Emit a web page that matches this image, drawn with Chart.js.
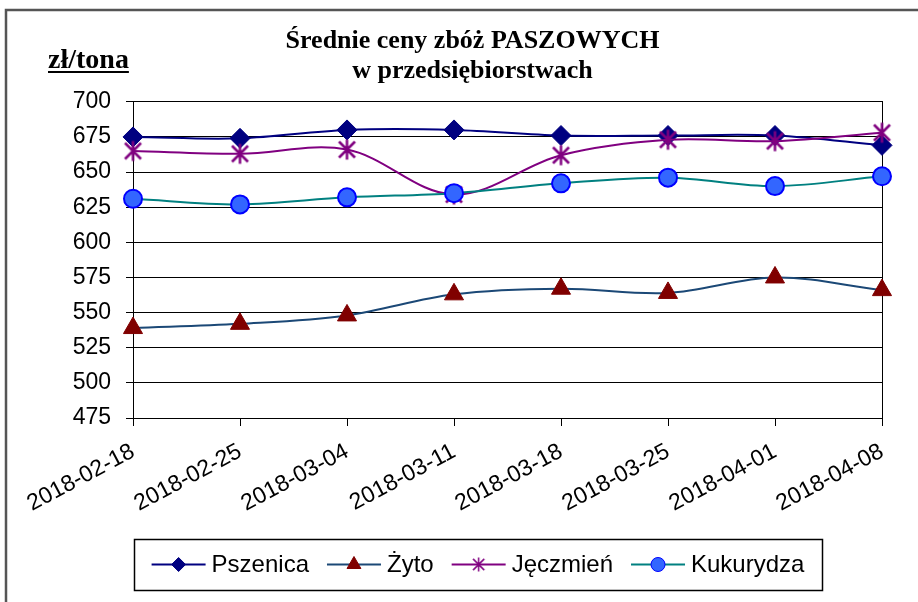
<!DOCTYPE html>
<html>
<head>
<meta charset="utf-8">
<script src="https://cdn.jsdelivr.net/npm/chart.js@4"></script>
<style>
html, body { margin: 0; padding: 0; background: #fff; }
#wrap { width: 918px; height: 602px; }
</style>
</head>
<body>
<div id="wrap"><canvas id="wykres" width="918" height="602"></canvas></div>
<script>
// dane
const daty = ['2018-02-18', '2018-02-25', '2018-03-04', '2018-03-11', '2018-03-18', '2018-03-25', '2018-04-01', '2018-04-08'];
const pszenica = [675, 674, 680, 680, 676, 676, 676, 669];
const zyto = [539, 542, 548, 563, 567, 564, 575, 566];
const jeczmien = [665, 663, 666, 634, 662, 673, 672, 678];
const kukurydza = [631, 627, 632, 635, 642, 646, 640, 647];
const osY = [475, 700, 25]; // min, max, krok
const tytul = ['Średnie ceny zbóż PASZOWYCH', 'w przedsiębiorstwach'];
const jednostka = 'zł/tona';

const sans = 'Arial, "Liberation Sans", sans-serif';
const serif = '"Times New Roman", "Liberation Serif", serif';

// gwiazdka jak w Excelu (pion + X)
function gwiazdka(r, lw, kolor) {
	const c = document.createElement('canvas');
	const s = Math.ceil(2 * r + lw * 2);
	c.width = s; c.height = s;
	const g = c.getContext('2d');
	const m = s / 2, d = r * 0.8;
	g.strokeStyle = kolor;
	g.lineWidth = lw;
	g.beginPath();
	g.moveTo(m, m - r); g.lineTo(m, m + r);
	g.moveTo(m - d, m - d); g.lineTo(m + d, m + d);
	g.moveTo(m + d, m - d); g.lineTo(m - d, m + d);
	g.stroke();
	return c;
}

// tlo, ramka i opis osi
const tlo = {
	id: 'tlo',
	beforeDraw(chart) {
		const ctx = chart.ctx;
		ctx.save();
		ctx.fillStyle = '#fff';
		ctx.fillRect(0, 0, chart.width, chart.height);
		ctx.strokeStyle = '#555';
		ctx.lineWidth = 2.5;
		ctx.strokeRect(6, 10, 1000, 1000);
		ctx.restore();
	},
	afterDraw(chart) {
		const ctx = chart.ctx;
		ctx.save();
		ctx.font = 'bold 28px ' + serif;
		ctx.fillStyle = '#000';
		ctx.textBaseline = 'alphabetic';
		ctx.fillText(jednostka, 48, 68);
		const w = ctx.measureText(jednostka).width;
		ctx.fillRect(48, 71, w, 2);
		ctx.restore();
	}
};

// legenda w ramce (linia + znacznik)
const legenda = {
	id: 'legenda',
	afterDraw(chart) {
		const ctx = chart.ctx;
		const box = { x: 134, y: 539, w: 688, h: 51 };
		const linia = 54, odstep = 6, przerwa = 18;
		ctx.save();
		ctx.strokeStyle = '#000';
		ctx.lineWidth = 1.5;
		ctx.strokeRect(box.x + 0.5, box.y + 0.5, box.w, box.h);
		ctx.font = '24px ' + sans;
		ctx.textBaseline = 'middle';
		const ds = chart.data.datasets;
		let suma = 0;
		ds.forEach((d, i) => { suma += linia + odstep + ctx.measureText(d.label).width + (i ? przerwa : 0); });
		let x = box.x + (box.w - suma) / 2;
		const cy = box.y + box.h / 2;
		ds.forEach(d => {
			ctx.strokeStyle = d.borderColor;
			ctx.lineWidth = 2;
			ctx.beginPath(); ctx.moveTo(x, cy); ctx.lineTo(x + linia, cy); ctx.stroke();
			ctx.fillStyle = d.pointBackgroundColor;
			ctx.strokeStyle = d.pointBorderColor;
			ctx.lineWidth = 1;
			Chart.helpers.drawPoint(ctx, { pointStyle: d.legendStyle || d.pointStyle, radius: d.legendRadius, borderWidth: 1, rotation: 0 }, x + linia / 2, cy);
			ctx.fillStyle = '#000';
			ctx.fillText(d.label, x + linia + odstep, cy + 1);
			x += linia + odstep + ctx.measureText(d.label).width + przerwa;
		});
		ctx.restore();
	}
};

var context = document.getElementById('wykres').getContext('2d');
var wykres = new Chart(context, {
	type: 'line',
	data: {
		labels: daty,
		datasets: [{
			label: 'Pszenica',
			data: pszenica,
			borderColor: '#000080',
			pointStyle: 'rectRot',
			pointRadius: 10,
			legendRadius: 7,
			pointBackgroundColor: '#000080',
			pointBorderColor: '#000080',
			pointBorderWidth: 1,
			order: 4
		}, {
			label: 'Żyto',
			data: zyto,
			borderColor: '#1b4876',
			pointStyle: 'triangle',
			pointRadius: 11,
			legendRadius: 8,
			pointBackgroundColor: '#800000',
			pointBorderColor: '#800000',
			pointBorderWidth: 1,
			order: 3
		}, {
			label: 'Jęczmień',
			data: jeczmien,
			borderColor: '#800080',
			pointStyle: gwiazdka(10, 2.5, '#800080'),
			legendStyle: gwiazdka(7, 1.5, '#800080'),
			pointRadius: 10,
			legendRadius: 7,
			pointBackgroundColor: '#800080',
			pointBorderColor: '#800080',
			order: 2
		}, {
			label: 'Kukurydza',
			data: kukurydza,
			borderColor: '#008080',
			pointStyle: 'circle',
			pointRadius: 9,
			legendRadius: 7,
			pointBackgroundColor: '#3366ff',
			pointBorderColor: '#0000ff',
			pointBorderWidth: 2,
			order: 1
		}]
	},
	options: {
		responsive: false,
		animation: false,
		events: [],
		layout: { padding: { left: 63, right: 36, top: 0, bottom: 84 } },
		elements: { line: { tension: 0.35, borderWidth: 2, fill: false } },
		plugins: {
			legend: { display: false },
			tooltip: { enabled: false },
			title: {
				display: true,
				text: tytul,
				color: '#000',
				font: { family: serif, size: 26, weight: 'bold', lineHeight: 1.15 },
				padding: { top: 26, bottom: 16 }
			}
		},
		scales: {
			x: {
				grid: { display: true, drawOnChartArea: false, drawTicks: true, tickLength: 8, color: '#000' },
				border: { display: true, color: '#000' },
				ticks: { color: '#000', font: { family: sans, size: 23 }, minRotation: 28, maxRotation: 28, autoSkip: false, padding: 12 },
				afterFit(s) { s.height = 100; }
			},
			y: {
				min: osY[0],
				max: osY[1],
				ticks: { stepSize: osY[2], color: '#000', font: { family: sans, size: 23 }, padding: 15 },
				grid: { color: '#000', tickLength: 7 },
				border: { color: '#000' },
				afterFit(s) { s.width = 70; }
			},
			y2: {
				position: 'right',
				grid: { display: false },
				ticks: { display: false },
				border: { display: true, color: '#000' },
				afterFit(s) { s.width = 0; }
			}
		}
	},
	plugins: [tlo, legenda]
});
</script>
</body>
</html>
